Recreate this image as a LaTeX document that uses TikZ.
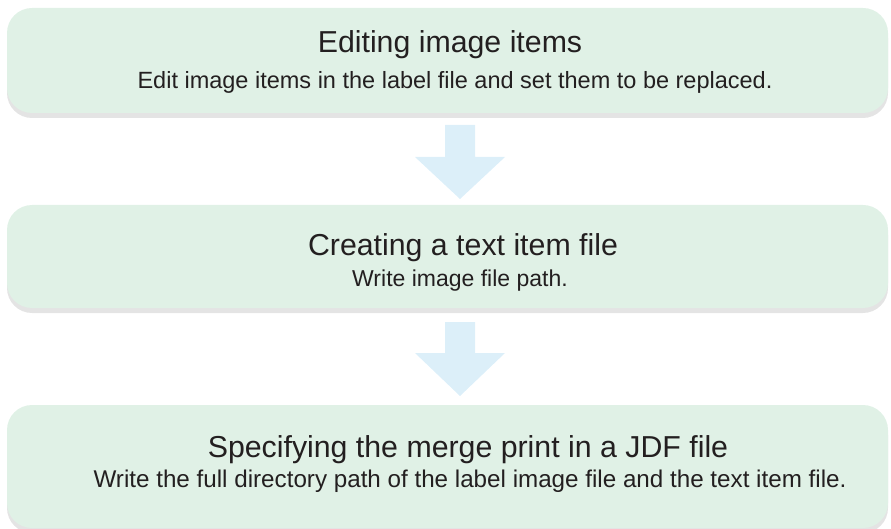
\documentclass[tikz,border=0pt]{standalone}
\usepackage{fontspec}
\setmainfont{Liberation Sans}
\definecolor{boxfill}{HTML}{E0F1E6}
\definecolor{shadowgray}{HTML}{E4E4E4}
\definecolor{arrowblue}{HTML}{DCEFF9}
\definecolor{txt}{HTML}{231F20}
\begin{document}
\begin{tikzpicture}[x=1pt,y=-1pt,
  stepbox/.style={fill=boxfill, draw=none, rounded corners=25pt, inner sep=0pt, minimum width=881pt},
  shade box/.style={fill=shadowgray, draw=none, rounded corners=25pt, inner sep=0pt, minimum width=881pt},
  title/.style={anchor=base, inner sep=0pt, text=txt, font=\fontsize{30.3}{33}\selectfont},
  sub/.style={anchor=base, inner sep=0pt, text=txt, font=\fontsize{23.5}{26}\selectfont},
  flowarrow/.style={fill=arrowblue, draw=none}]
\useasboundingbox (0,0) rectangle (891,529);
% shadows
\node[shade box, minimum height=105pt] (s1) at (447.5,65.5) {};
\node[shade box, minimum height=103pt] (s2) at (447.5,261.5) {};
\node[shade box, minimum height=123pt] (s3) at (447.5,471.5) {};
% boxes
\node[stepbox, minimum height=105pt] (b1) at (447.5,60.5) {};
\node[stepbox, minimum height=103pt] (b2) at (447.5,256.5) {};
\node[stepbox, minimum height=123pt] (b3) at (447.5,466.5) {};
% texts
\node[title] (t1) at (450,53) {Editing image items};
\node[sub] (d1) at (455,89) {Edit image items in the label file and set them to be replaced.};
\node[title] (t2) at (463,256) {Creating a text item file};
\node[sub, font=\fontsize{23}{26}\selectfont] (d2) at (460,287) {Write image file path.};
\node[title] (t3) at (468,457) {Specifying the merge print in a JDF file};
\node[sub, font=\fontsize{24.2}{27}\selectfont] (d3) at (470,487) {Write the full directory path of the label image file and the text item file.};
% arrows
\fill[flowarrow] (445,125) -- (475,125) -- (475,157) -- (505,157) -- (460,199) -- (415,157) -- (445,157) -- cycle;
\fill[flowarrow] (445,322) -- (475,322) -- (475,353) -- (505,353) -- (460,396) -- (415,353) -- (445,353) -- cycle;
\end{tikzpicture}
\end{document}
